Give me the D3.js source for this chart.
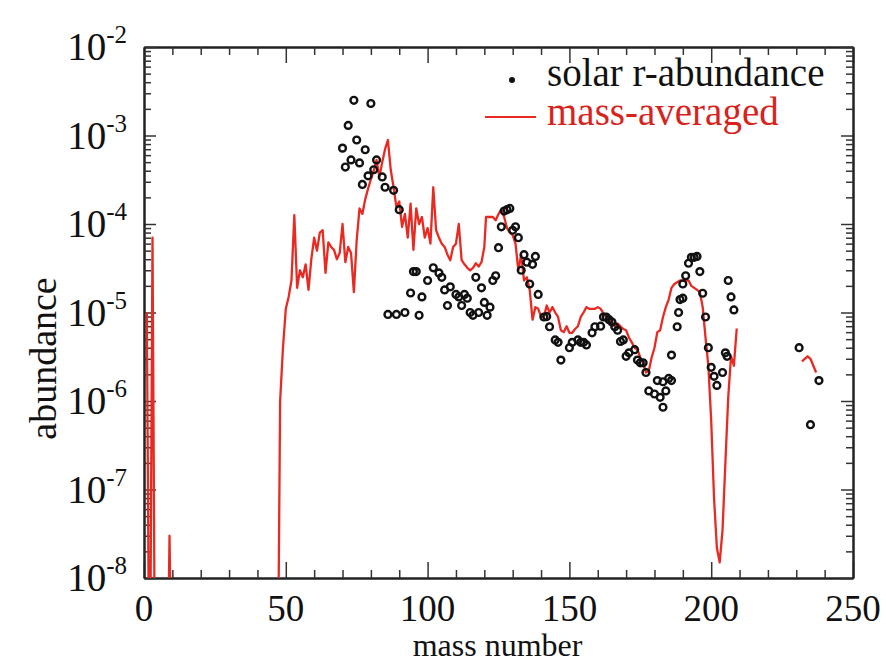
<!DOCTYPE html>
<meta charset="utf-8">
<script src="https://d3js.org/d3.v7.min.js"></script>
<style>
  body { margin: 0; background: #fff; }
  text { font-family: "Liberation Serif", "Times New Roman", "DejaVu Serif", serif; fill: #111; }
</style>
<div id="my_dataviz"></div>
<script>

// mass-averaged abundance (red line); null = gap in the curve
var avgMass = [1, 2, 3, 4, 8, 9, 10, 47, 48, 49, 50, 51, 52, 53, 54, 55, 56, 57, 58, 59,
  60, 61, 62, 63, 64, 65, 66, 67, 68, 69, 70, 71, 72, 73, 74, 75, 76, 77, 78, 79,
  80, 81, 82, 83, 84, 85, 86, 87, 88, 89, 90, 91, 92, 93, 94, 95, 96, 97, 98, 99,
  100, 101, 102, 103, 104, 105, 106, 107, 108, 109, 110, 111, 112, 113, 114, 115, 116, 117, 118, 119,
  120, 120.6, 122, 123, 124, 125, 126, 127, 128, 129, 130, 131, 132, 133, 134, 135, 136, 137, 138, 139,
  140, 141, 142, 143, 144, 145, 146, 147, 148, 149, 150, 151, 152, 153, 154, 155, 156, 157, 158, 159,
  160, 161, 162, 163, 164, 165, 166, 167, 168, 169, 170, 171, 172, 173, 174, 175, 176, 177, 178, 179,
  180, 181, 182, 183, 184, 185, 186, 187, 188, 189, 190, 191, 192, 193, 194, 195, 196, 197, 198, 199,
  200, 201, 202, 203, 204, 205, 206, 207, 208, 209, 220, 232, 234, 235, 237];
var avgValue = [1e-5, 1e-10, 7e-5, 1e-10, 1e-10, 3e-8, 1e-10, 1e-10, 1e-6, 4e-6, 1.1e-5, 1.5e-5, 2.3e-5, 1.26e-4, 1.9e-5, 3e-5, 2.5e-5, 3.5e-5, 1.8e-5, 4e-5,
  7e-5, 5e-5, 8e-5, 8.5e-5, 2.8e-5, 6.2e-5, 5.5e-5, 5.1e-5, 4e-5, 4.7e-5, 1e-4, 3.7e-5, 5.5e-5, 4.7e-5, 1.7e-5, 6.6e-5, 1.5e-4, 1.3e-4, 1.9e-4, 2.5e-4,
  3.2e-4, 4e-4, 5.3e-4, 3.4e-4, 5e-4, 7e-4, 8.9e-4, 4.1e-4, 2.6e-4, 1.55e-4, 1.8e-4, 9.3e-5, 1.3e-4, 7e-5, 1.7e-4, 5.1e-5, 1.5e-4, 1e-4, 1.2e-4, 7e-5,
  9e-5, 6e-5, 2.6e-4, 8.5e-5, 7e-5, 6e-5, 5.5e-5, 4.5e-5, 3.9e-5, 5.5e-5, 6e-5, 1e-4, 3.9e-5, 3.5e-5, 3.2e-5, 3e-5, 3.2e-5, 3.6e-5, 3.3e-5, 3.7e-5,
  5.5e-5, 1.2e-4, 1.2e-4, 1.2e-4, 1.1e-4, 1.3e-4, 1.45e-4, 1.2e-4, 9e-5, 8e-5, 7.5e-5, 6e-5, 3e-5, 4.5e-5, 2.3e-5, 2.5e-5, 1.8e-5, 8.3e-6, 1.15e-5, 1.1e-5,
  9e-6, 8.9e-6, 1.2e-5, 1e-5, 1.15e-5, 1e-5, 8.9e-6, 6.3e-6, 6e-6, 7e-6, 5.9e-6, 5.9e-6, 6.5e-6, 7e-6, 8.9e-6, 1e-5, 1.15e-5, 1.1e-5, 1.1e-5, 1.1e-5,
  1.15e-5, 1.1e-5, 9.8e-6, 8.9e-6, 8.3e-6, 7.6e-6, 7e-6, 7.5e-6, 7e-6, 6.5e-6, 6.3e-6, 5.2e-6, 4.6e-6, 4e-6, 3.8e-6, 3.1e-6, 2.7e-6, 2.1e-6, 2.2e-6, 3.1e-6,
  4e-6, 6e-6, 6.3e-6, 8.9e-6, 1.15e-5, 1.4e-5, 1.9e-5, 2.1e-5, 2.2e-5, 2.3e-5, 2.3e-5, 2.3e-5, 2.3e-5, 2e-5, 1.9e-5, 1.8e-5, 1.7e-5, 1.15e-5, 5.2e-6, 2.5e-6,
  6e-7, 8e-8, 2.2e-8, 1.5e-8, 3.5e-8, 2e-7, 1.1e-6, 3.2e-6, 2.5e-6, 6.6e-6, null, 2.8e-6, 3.2e-6, 3e-6, 2.1e-6];

// solar r-process abundances (points)
var solarMass = [70, 71, 72, 73, 74, 75, 76, 77, 78, 79, 80, 81, 82, 84, 85, 86, 88, 89, 90, 92,
  94, 95, 96, 97, 98, 100, 102, 104, 105, 106, 107, 108, 110, 111, 112, 113, 114, 115, 116, 117,
  118, 119, 120, 121, 122, 123, 124, 125, 126, 127, 128, 129, 130, 131, 132, 133, 134, 135, 136, 137,
  138, 139, 141, 142, 143, 145, 146, 147, 150, 151, 153, 154, 155, 156, 158, 159, 161, 162, 163, 164,
  165, 166, 167, 168, 169, 170, 171, 173, 174, 175, 176, 177, 178, 180, 181, 182, 183, 183, 184, 185,
  186, 186, 188, 188.5, 189, 190, 190, 191, 192, 193, 194, 195, 196, 197, 198, 199, 200, 201, 202, 204,
  205, 205.6, 206, 207, 208, 231, 235, 238];
var solarValue = [7.2e-4, 4.4e-4, 1.3e-3, 5.3e-4, 2.5e-3, 8.9e-4, 4.9e-4, 2.8e-4, 6.9e-4, 3.5e-4, 2.3e-3, 4.1e-4, 5.3e-4, 3.4e-4, 2.6e-4, 9.5e-6, 2.4e-4, 9.5e-6, 1.45e-4, 1e-5,
  1.66e-5, 2.9e-5, 2.9e-5, 9.3e-6, 1.5e-5, 2.3e-5, 3.2e-5, 2.8e-5, 2.5e-5, 1.8e-5, 1.2e-5, 1.95e-5, 1.6e-5, 1.5e-5, 1.2e-5, 1.6e-5, 1.45e-5, 1e-5, 9.3e-6, 2.5e-5,
  1e-5, 1.9e-5, 1.3e-5, 9.3e-6, 1.15e-5, 2.3e-5, 2.6e-5, 5.4e-5, 9.3e-5, 1.4e-4, 1.45e-4, 1.5e-4, 8.5e-5, 9.3e-5, 7e-5, 3e-5, 4.5e-5, 3.7e-5, 2.1e-5, 3.5e-5,
  4.3e-5, 1.6e-5, 8.9e-6, 9e-6, 6.9e-6, 4.9e-6, 4.6e-6, 2.9e-6, 4e-6, 4.6e-6, 4.9e-6, 4.6e-6, 4.6e-6, 4.3e-6, 5.9e-6, 6.9e-6, 7e-6, 8.9e-6, 8.9e-6, 8.3e-6,
  7.8e-6, 6.9e-6, 6.3e-6, 4.7e-6, 4.9e-6, 3.2e-6, 3.5e-6, 3.8e-6, 2.9e-6, 2.7e-6, 2.7e-6, 2.1e-6, 1.3e-6, 1.2e-6, 1.7e-6, 1.1e-6, 8.5e-7, 1.65e-6, 1.3e-6, 1.8e-6,
  3.3e-6, 1.7e-6, 6.9e-6, 1e-5, 1.4e-5, 1.45e-5, 2.1e-5, 2.6e-5, 3.6e-5, 4.2e-5, 4.2e-5, 4.3e-5, 2.9e-5, 1.65e-5, 8.9e-6, 4e-6, 2.4e-6, 1.9e-6, 1.5e-6, 2.1e-6,
  3.5e-6, 3.2e-6, 2.3e-5, 1.5e-5, 1.07e-5, 4e-6, 5.4e-7, 1.7e-6];

var xTicks = [0, 50, 100, 150, 200, 250];
var yDecades = [-8, -7, -6, -5, -4, -3, -2];

// set the dimensions and margins of the graph
var margin = {top: 47, right: 33, bottom: 86, left: 144},
    width = 886 - margin.left - margin.right,
    height = 664 - margin.top - margin.bottom;

var svg = d3.select("#my_dataviz")
  .append("svg")
    .attr("width", 886)
    .attr("height", 664)
  .append("g")
    .attr("transform", "translate(" + margin.left + "," + margin.top + ")");

var x = d3.scaleLinear().domain([0, 250]).range([0, width]);
var y = d3.scaleLog().domain([1e-8, 1e-2]).range([height, 0]);

// minor tick values
var xMinor = d3.range(0, 251, 10).filter(function(d) { return d % 50 != 0; });
var yMinor = [];
yDecades.slice(0, -1).forEach(function(e) {
  for (var k = 2; k <= 9; k++) yMinor.push(k * Math.pow(10, e));
});
var yMajor = yDecades.map(function(e) { return Math.pow(10, e); });

function styleAxis(g) {
  g.select(".domain").attr("stroke", "#222").attr("stroke-width", 2);
  g.selectAll(".tick line").attr("stroke", "#333").attr("stroke-width", 1.5);
}

// bottom / top axes
svg.append("g").attr("transform", "translate(0," + height + ")")
  .call(d3.axisBottom(x).tickValues(xTicks).tickSize(-16).tickSizeOuter(0).tickFormat(""))
  .call(styleAxis);
svg.append("g").attr("transform", "translate(0," + height + ")")
  .call(d3.axisBottom(x).tickValues(xMinor).tickSize(-8).tickSizeOuter(0).tickFormat(""))
  .call(styleAxis);
svg.append("g")
  .call(d3.axisTop(x).tickValues(xTicks).tickSize(-16).tickSizeOuter(0).tickFormat(""))
  .call(styleAxis);
svg.append("g")
  .call(d3.axisTop(x).tickValues(xMinor).tickSize(-8).tickSizeOuter(0).tickFormat(""))
  .call(styleAxis);

// left / right axes
svg.append("g")
  .call(d3.axisLeft(y).tickValues(yMajor).tickSize(-12).tickSizeOuter(0).tickFormat(""))
  .call(styleAxis);
svg.append("g")
  .call(d3.axisLeft(y).tickValues(yMinor).tickSize(-7).tickSizeOuter(0).tickFormat(""))
  .call(styleAxis);
svg.append("g").attr("transform", "translate(" + width + ",0)")
  .call(d3.axisRight(y).tickValues(yMajor).tickSize(-12).tickSizeOuter(0).tickFormat(""))
  .call(styleAxis);
svg.append("g").attr("transform", "translate(" + width + ",0)")
  .call(d3.axisRight(y).tickValues(yMinor).tickSize(-7).tickSizeOuter(0).tickFormat(""))
  .call(styleAxis);

// x tick labels
svg.selectAll(".xlab")
  .data(xTicks)
  .enter().append("text")
    .attr("x", function(d) { return x(d); })
    .attr("y", height + 43)
    .attr("text-anchor", "middle")
    .style("font-size", "37px")
    .text(function(d) { return d; });

// y tick labels with superscripts
var ylab = svg.selectAll(".ylab")
  .data(yDecades)
  .enter().append("text")
    .attr("x", -17)
    .attr("y", function(d) { return y(Math.pow(10, d)) + 13; })
    .attr("text-anchor", "end")
    .style("font-size", "39px");
ylab.append("tspan").text("10");
ylab.append("tspan")
  .attr("dy", -17)
  .style("font-size", "25px")
  .text(function(d) { return d; });

// axis titles
svg.append("text")
  .attr("x", width / 2 - 1)
  .attr("y", height + 78)
  .attr("text-anchor", "middle")
  .style("font-size", "32px")
  .text("mass number");
svg.append("text")
  .attr("transform", "translate(" + (-88) + "," + (height / 2 + 46) + ") rotate(-90)")
  .attr("text-anchor", "middle")
  .style("font-size", "38px")
  .text("abundance");

// clip to the plot area
svg.append("clipPath").attr("id", "clip")
  .append("rect").attr("width", width).attr("height", height);

var plot = svg.append("g").attr("clip-path", "url(#clip)");

var avgData = avgMass.map(function(a, i) { return {a: a, v: avgValue[i]}; });
var solarData = solarMass.map(function(a, i) { return {a: a, v: solarValue[i]}; });

var line = d3.line()
  .defined(function(d) { return d.v != null; })
  .x(function(d) { return x(d.a); })
  .y(function(d) { return y(d.v); });

plot.append("path")
  .datum(avgData)
  .attr("fill", "none")
  .attr("stroke", "#e82a22")
  .attr("stroke-width", 2.3)
  .attr("stroke-linejoin", "round")
  .attr("d", line);

plot.selectAll("circle")
  .data(solarData)
  .enter().append("circle")
    .attr("cx", function(d) { return x(d.a); })
    .attr("cy", function(d) { return y(d.v); })
    .attr("r", 3.4)
    .attr("fill", "none")
    .attr("stroke", "#111")
    .attr("stroke-width", 2.4);

// legend
var legend = svg.append("g").attr("transform", "translate(" + (512 - margin.left) + "," + (80 - margin.top) + ")");
legend.append("circle").attr("cx", 0).attr("cy", 0).attr("r", 3).attr("fill", "#111");
legend.append("text").attr("x", 35).attr("y", 6).style("font-size", "39px").text("solar r-abundance");
legend.append("line").attr("x1", -27).attr("x2", 24).attr("y1", 37).attr("y2", 37)
  .attr("stroke", "#e82a22").attr("stroke-width", 2);
legend.append("text").attr("x", 35).attr("y", 45).style("font-size", "39px")
  .style("fill", "#d8231c").text("mass-averaged");

</script>
